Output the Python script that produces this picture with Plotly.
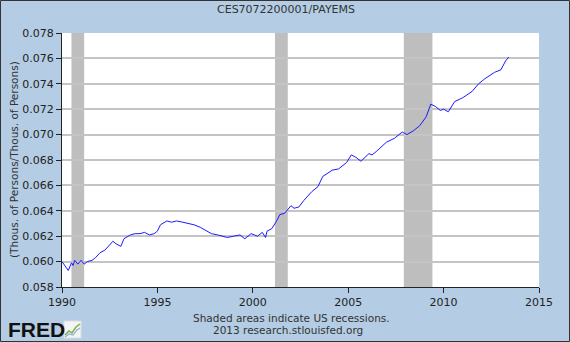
import plotly.graph_objects as go

# ---- data ----
dates = ["1990-01-01", "1990-03-01", "1990-05-01", "1990-07-01", "1990-08-01", "1990-09-01",
         "1990-11-01", "1991-01-01", "1991-03-01", "1991-05-01", "1991-08-01", "1991-10-01",
         "1992-01-01", "1992-04-01", "1992-06-01", "1992-09-01", "1992-11-01", "1993-02-01",
         "1993-04-01", "1993-08-01", "1993-11-01", "1994-02-01", "1994-05-01", "1994-08-01",
         "1994-11-01", "1995-01-01", "1995-03-01", "1995-07-01", "1995-10-01", "1996-01-01",
         "1996-05-01", "1996-08-01", "1996-12-01", "1997-04-01", "1997-07-01", "1997-09-01",
         "1997-11-01", "1998-03-01", "1998-06-01", "1998-09-01", "1999-01-01", "1999-05-01",
         "1999-08-01", "1999-12-01", "2000-02-01", "2000-04-01", "2000-07-01", "2000-09-01",
         "2000-10-01", "2001-01-01", "2001-04-01", "2001-06-01", "2001-09-01", "2002-01-01",
         "2002-03-01", "2002-06-01", "2002-09-01", "2003-02-01", "2003-06-01", "2003-09-01",
         "2004-03-01", "2004-07-01", "2004-12-01", "2005-03-01", "2005-06-01", "2005-09-01",
         "2006-02-01", "2006-04-01", "2006-07-01", "2007-01-01", "2007-06-01", "2007-11-01",
         "2008-02-01", "2008-06-01", "2008-10-01", "2009-02-01", "2009-05-01", "2009-08-01",
         "2009-11-01", "2010-01-01", "2010-04-01", "2010-08-01", "2011-01-01", "2011-07-01",
         "2011-11-01", "2012-03-01", "2012-09-01", "2013-01-01", "2013-04-01", "2013-06-01"]
values = [0.0600, 0.0597, 0.0593, 0.0599, 0.0597, 0.0601,
          0.0598, 0.0601, 0.0598, 0.0600, 0.0601, 0.0603,
          0.0607, 0.0609, 0.0612, 0.0616, 0.0614, 0.0612,
          0.0618, 0.0621, 0.0622, 0.0622, 0.0623, 0.0621,
          0.0622, 0.0624, 0.0629, 0.0632, 0.0631, 0.0632,
          0.0631, 0.0630, 0.0629, 0.0627, 0.0625, 0.0623,
          0.0622, 0.0621, 0.0620, 0.0619, 0.0620, 0.0621,
          0.0618, 0.0622, 0.0621, 0.0620, 0.0623, 0.0619,
          0.0624, 0.0626, 0.0632, 0.0637, 0.0638, 0.0644,
          0.0642, 0.0643, 0.0648, 0.0655, 0.0659, 0.0667,
          0.0672, 0.0673, 0.0678, 0.0684, 0.0682, 0.0679,
          0.0685, 0.0684, 0.0687, 0.0694, 0.0697, 0.0702,
          0.0700, 0.0703, 0.0707, 0.0714, 0.0724, 0.0722,
          0.0719, 0.0720, 0.0718, 0.0726, 0.0729, 0.0734,
          0.0740, 0.0744, 0.0749, 0.0751, 0.0758, 0.0761]

recession_starts = ["1990-07-01", "2001-03-01", "2007-12-01"]
recession_ends = ["1991-03-01", "2001-11-01", "2009-06-01"]

x_tick_vals = ["1990-01-01", "1995-01-01", "2000-01-01", "2005-01-01", "2010-01-01", "2015-01-01"]
x_tick_text = ["1990", "1995", "2000", "2005", "2010", "2015"]
y_tick_vals = [0.058, 0.060, 0.062, 0.064, 0.066, 0.068, 0.070, 0.072, 0.074, 0.076, 0.078]

title_text = "CES7072200001/PAYEMS"
y_title = "(Thous. of Persons/Thous. of Persons)"
note1 = "Shaded areas indicate US recessions."
note2 = "2013 research.stlouisfed.org"

# ---- layout geometry ----
W, H = 570, 342
L, R, T, B = 62, 31, 33, 55
PW, PH = W - L - R, H - T - B
BG = "#b4cde4"
FONT = "DejaVu Sans"


def px(xp):
    return (xp - L) / PW


def py(yp):
    return (H - B - yp) / PH


fig = go.Figure()
fig.add_trace(go.Scatter(x=dates, y=values, mode="lines",
                         line=dict(color="#1a1aff", width=1), hoverinfo="skip",
                         showlegend=False))

shapes = []
for s, e in zip(recession_starts, recession_ends):
    shapes.append(dict(type="rect", xref="x", yref="paper", x0=s, x1=e, y0=0, y1=1,
                       fillcolor="#bebebe", line=dict(width=0), layer="between"))
# outer border of the image
shapes.append(dict(type="rect", xref="paper", yref="paper",
                   x0=px(0.5), x1=px(W - 0.5), y0=py(H - 0.5), y1=py(0.5),
                   line=dict(color="#333333", width=1), fillcolor="rgba(0,0,0,0)", layer="above"))
# FRED logo icon
shapes.append(dict(type="rect", xref="paper", yref="paper",
                   x0=px(64), x1=px(81), y0=py(338), y1=py(321),
                   line=dict(color="#dddddd", width=1), fillcolor="#f4f4f4", layer="above"))
shapes.append(dict(type="path", xref="paper", yref="paper",
                   path=f"M {px(65)} {py(335)} L {px(69)} {py(331)} L {px(72)} {py(333)} L {px(76)} {py(327)} L {px(80)} {py(324)}",
                   line=dict(color="#7fae4f", width=1.5), layer="above"))
shapes.append(dict(type="path", xref="paper", yref="paper",
                   path=f"M {px(65)} {py(337)} L {px(69)} {py(334)} L {px(73)} {py(335)} L {px(77)} {py(330)} L {px(80)} {py(328)}",
                   line=dict(color="#8fb0d0", width=1.2), layer="above"))

annotations = [
    dict(text=title_text, xref="paper", yref="paper", x=px(286), y=py(10),
         xanchor="center", yanchor="middle", showarrow=False,
         font=dict(family=FONT, size=11, color="#333333")),
    dict(text=y_title, xref="paper", yref="paper", x=px(14), y=py(160),
         xanchor="center", yanchor="middle", textangle=-90, showarrow=False,
         font=dict(family=FONT, size=10.5, color="#333333")),
    dict(text=note1, xref="paper", yref="paper", x=px(291), y=py(318),
         xanchor="center", yanchor="middle", showarrow=False,
         font=dict(family=FONT, size=10.5, color="#333333")),
    dict(text=note2, xref="paper", yref="paper", x=px(288), y=py(330),
         xanchor="center", yanchor="middle", showarrow=False,
         font=dict(family=FONT, size=10.5, color="#333333")),
    dict(text="<b>FRED</b>", xref="paper", yref="paper", x=px(6), y=py(329.5),
         xanchor="left", yanchor="middle", showarrow=False,
         font=dict(family="Liberation Sans", size=21, color="#111111")),
]

fig.update_layout(
    width=W, height=H,
    margin=dict(l=L, r=R, t=T, b=B, pad=0),
    paper_bgcolor=BG, plot_bgcolor="white",
    showlegend=False,
    shapes=shapes, annotations=annotations,
    xaxis=dict(type="date", range=["1990-01-01", "2015-01-01"],
               tickvals=x_tick_vals, ticktext=x_tick_text,
               showgrid=False, zeroline=False,
               showline=True, linecolor="#222222", linewidth=1,
               ticks="outside", ticklen=5, tickcolor="#222222",
               tickfont=dict(family=FONT, size=11, color="#222222")),
    yaxis=dict(range=[0.058, 0.078], tickvals=y_tick_vals, tickformat=".3f",
               showgrid=True, gridcolor="#c4c4c4", gridwidth=1.5, zeroline=False,
               showline=True, linecolor="#222222", linewidth=1,
               ticks="outside", ticklen=5, tickcolor="#222222",
               tickfont=dict(family=FONT, size=11, color="#222222")),
)

fig.write_html("out.html")
